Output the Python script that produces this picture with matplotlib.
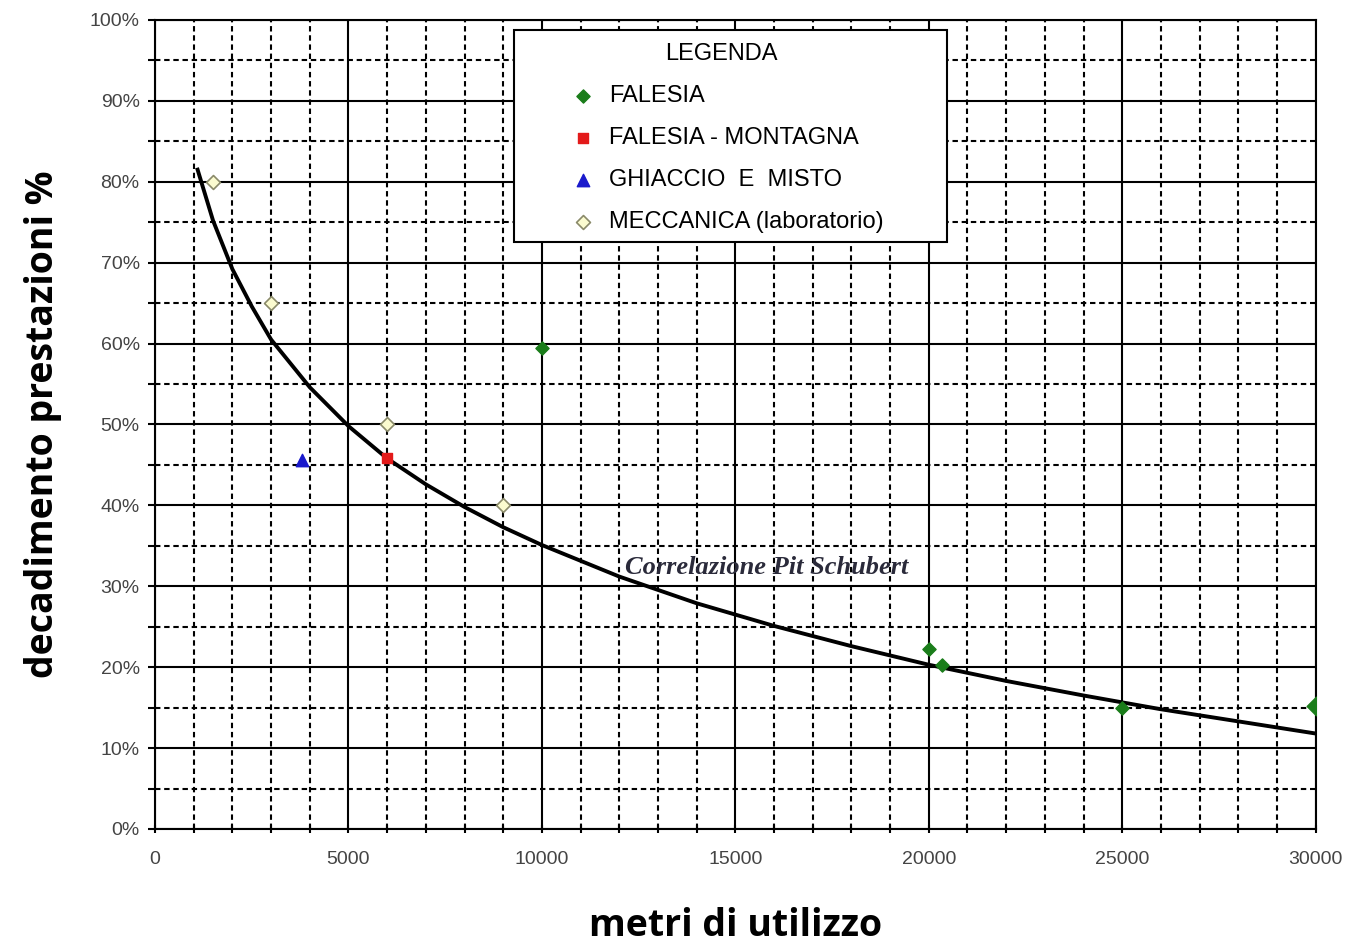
import matplotlib
matplotlib.use("Agg")
import matplotlib.pyplot as plt
from matplotlib.patches import Rectangle
from matplotlib.ticker import MultipleLocator, PercentFormatter

# Pit Schubert correlation curve
curve_x = [1100, 1500, 2000, 2500, 3000, 4000, 5000, 6000, 7000, 8000, 9000,
           10000, 12000, 14000, 16000, 18000, 20000, 22000, 24000, 26000, 28000, 30000]
curve_y = [81.5, 75.2, 69.2, 64.6, 60.5, 54.6, 49.8, 45.8, 42.6, 39.8, 37.3,
           35.1, 31.2, 27.9, 25.1, 22.6, 20.3, 18.3, 16.5, 14.8, 13.3, 11.8]

falesia_x = [10000, 20000, 20350, 25000, 30000]
falesia_y = [59.5, 22.3, 20.3, 15.0, 15.2]
montagna_x = [6000]
montagna_y = [45.8]
ghiaccio_x = [3800]
ghiaccio_y = [45.6]
meccanica_x = [1500, 3000, 6000, 9000]
meccanica_y = [80, 65, 50, 40]

TICK_FONT = "Liberation Sans"
LABEL_FONT = "Open Sans"

fig = plt.figure(figsize=(13.48, 9.46), dpi=100)
ax = fig.add_axes([0.115, 0.1237, 0.861, 0.8552])

ax.set_xlim(0, 30000)
ax.set_ylim(0, 100)

# grid: solid major, dashed minor
ax.xaxis.set_major_locator(MultipleLocator(5000))
ax.xaxis.set_minor_locator(MultipleLocator(1000))
ax.yaxis.set_major_locator(MultipleLocator(10))
ax.yaxis.set_minor_locator(MultipleLocator(5))
ax.yaxis.set_major_formatter(PercentFormatter(decimals=0))
ax.grid(which="major", color="black", lw=1.5, ls="-", zorder=1)
ax.grid(which="minor", color="black", lw=1.5, ls=(0, (2.6, 1.8)), zorder=1)
ax.set_axisbelow(True)
for s in ax.spines.values():
    s.set_linewidth(1.5)

ax.tick_params(axis="y", which="both", direction="out", length=5, width=1.5,
               labelsize=14, labelcolor="#444444", pad=6)
ax.tick_params(axis="x", which="both", direction="inout", length=6, width=1.5,
               labelsize=14, labelcolor="#444444", pad=13)
for lab in ax.get_xticklabels() + ax.get_yticklabels():
    lab.set_family(TICK_FONT)

ax.plot(curve_x, curve_y, color="black", lw=2.8, zorder=3)

ax.scatter(falesia_x, falesia_y, marker="D", s=45, color="#1a7d1a", zorder=4, label="FALESIA")
ax.scatter(falesia_x[-1:], falesia_y[-1:], marker="D", s=90, color="#1a7d1a", zorder=4)
ax.scatter(montagna_x, montagna_y, marker="s", s=60, color="#e31a1a", zorder=4,
           label="FALESIA - MONTAGNA")
ax.scatter(ghiaccio_x, ghiaccio_y, marker="^", s=80, color="#1a1acc", zorder=4,
           label="GHIACCIO  E  MISTO")
ax.scatter(meccanica_x, meccanica_y, marker="D", s=50, facecolor="#fbfbcf",
           edgecolor="#8a8a6a", lw=1.2, zorder=4, label="MECCANICA (laboratorio)")

ax.text(12150, 32.3, "Correlazione Pit Schubert", family="Liberation Serif",
        style="italic", fontweight="bold", fontsize=19, color="#2a2a3a",
        va="center", ha="left", zorder=5)

# legend box
ax.add_patch(Rectangle((0.309, 0.725), 0.373, 0.262, transform=ax.transAxes,
                       facecolor="white", edgecolor="black", lw=1.5, zorder=6))
leg = ax.legend(loc="upper left", bbox_to_anchor=(0.33, 0.998), frameon=False,
                title="LEGENDA", prop={"family": TICK_FONT, "size": 17},
                title_fontproperties={"family": TICK_FONT, "size": 17},
                labelspacing=0.85, handletextpad=0.1, markerscale=1.0)
leg.set_zorder(7)

ax.set_xlabel("metri di utilizzo", family=LABEL_FONT, fontsize=27, fontweight="bold",
              labelpad=28)
ax.set_ylabel("decadimento prestazioni %", family=LABEL_FONT, fontsize=27,
              fontweight="bold", labelpad=20)

fig.savefig("out.png", dpi=100)
